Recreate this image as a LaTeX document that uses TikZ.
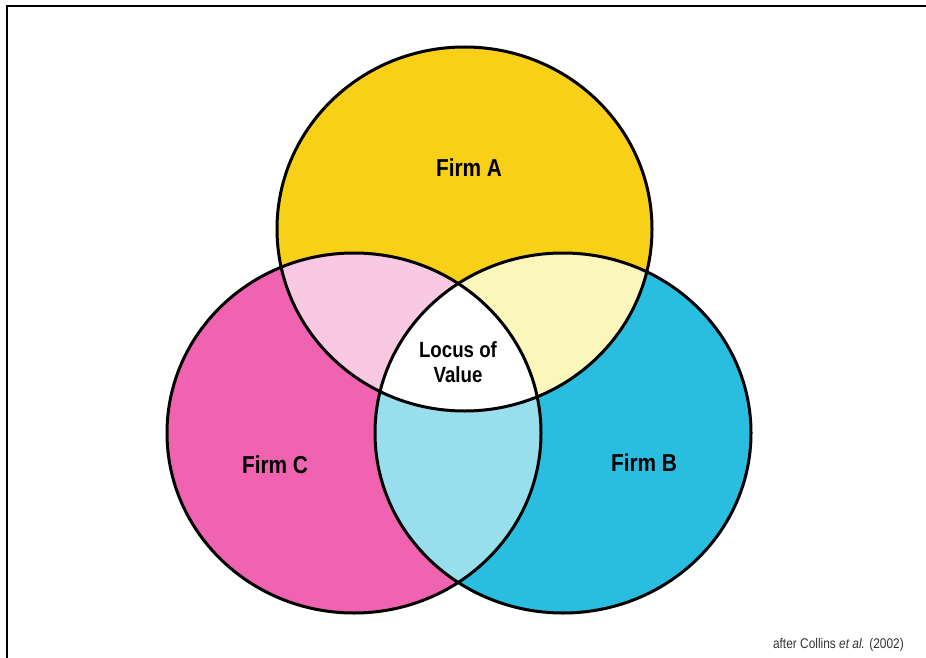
\documentclass[tikz,border=0pt]{standalone}
\usepackage{fontspec}
\setmainfont{Liberation Sans}
\newfontfamily\condfont[FakeStretch=0.85]{Liberation Sans}
\definecolor{firma}{HTML}{F7D017}
\definecolor{firmb}{HTML}{29BEE0}
\definecolor{firmc}{HTML}{EF63B0}
\definecolor{ac}{HTML}{F9C8E3}
\definecolor{ab}{HTML}{FBF6BC}
\definecolor{bc}{HTML}{99DEEC}
\definecolor{captiongray}{HTML}{333333}
\begin{document}
\begin{tikzpicture}[x=1pt,y=-1pt,
  outline/.style={draw=black,line width=3pt},
  firmlabel/.style={font=\condfont\bfseries\fontsize{24.5}{28}\selectfont,text=black,inner sep=0pt},
  locuslabel/.style={font=\condfont\bfseries\fontsize{22}{25}\selectfont,text=black,align=center,inner sep=0pt},
  captionlabel/.style={font=\condfont\fontsize{14}{16}\selectfont,text=captiongray,inner sep=0pt}]
\useasboundingbox (0,0) rectangle (926,658);
\fill[white] (0,0) rectangle (926,658);
% frame
\draw[line width=2pt,black] (7,658) coordinate (fbl) -- (7,6) coordinate (ftl) -- (926,6) coordinate (ftr);
\def\circA{(464.5,229) ellipse [x radius=187.5pt, y radius=182pt]}
\def\circB{(563,433) ellipse [x radius=188pt, y radius=180pt]}
\def\circC{(354,433) ellipse [x radius=187pt, y radius=180pt]}
% base fills
\fill[firma] \circA;
\fill[firmb] \circB;
\fill[firmc] \circC;
% pairwise intersections
\begin{scope}
  \clip \circA;
  \fill[ac] \circC;
\end{scope}
\begin{scope}
  \clip \circA;
  \fill[ab] \circB;
\end{scope}
\begin{scope}
  \clip \circB;
  \fill[bc] \circC;
\end{scope}
\begin{scope}
  \clip \circA;
  \clip \circB;
  \fill[white] \circC;
\end{scope}
% outlines
\draw[outline] \circA;
\draw[outline] \circB;
\draw[outline] \circC;
% labels
\node[firmlabel] (firmA) at (469,168) {Firm A};
\node[firmlabel] (firmC) at (275,465) {Firm C};
\node[firmlabel] (firmB) at (644,463) {Firm B};
\node[locuslabel] (locus) at (458,362) {Locus of\\Value};
\node[captionlabel,anchor=base east] (caption) at (904,648) {after Collins {\itshape et al.} (2002)};
\end{tikzpicture}
\end{document}
